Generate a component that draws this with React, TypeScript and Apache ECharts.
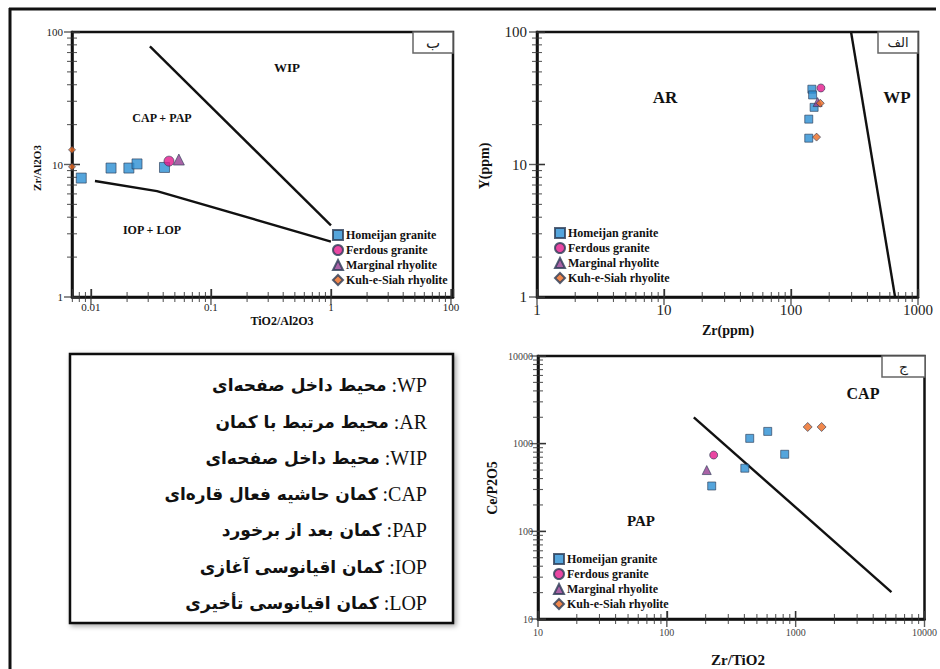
import React, { useEffect, useRef } from "react";
import * as echarts from "echarts";

// ---------- data ----------
const seriesNames = ["Homeijan granite", "Ferdous granite", "Marginal rhyolite", "Kuh-e-Siah rhyolite"];

// Plot "ب": TiO2/Al2O3 vs Zr/Al2O3
const bHomeijan = [[0.0083, 7.9], [0.0147, 9.4], [0.0207, 9.4], [0.0242, 10.1], [0.041, 9.5]];
const bFerdous = [[0.0447, 10.6]];
const bMarginal = [[0.054, 10.9]];
const bKuh = [[0.00695, 12.9], [0.00695, 9.6]];
const bLineUpper = [[0.031, 78], [1, 3.47]];
const bLineLower = [[0.0108, 7.5], [0.0355, 6.3], [1, 2.62]];
const bXTicks = [0.01, 0.1, 1, 10];
const bXLabels = ["0.01", "0.1", "1", "100"];
const bYTicks = [1, 10, 100];
const bYLabels = ["1", "10", "100"];

// Plot "الف": Zr vs Y
const aHomeijan = [[146, 37], [148, 33.5], [152, 27], [138, 22], [138, 15.8]];
const aFerdous = [[172, 37.8]];
const aMarginal = [[162, 29.6]];
const aKuh = [[170, 29], [159, 16.1]];
const aLine = [[297, 100], [660, 1]];
const aXTicks = [1, 10, 100, 1000];
const aXLabels = ["1", "10", "100", "1000"];
const aYTicks = [1, 10, 100];
const aYLabels = ["1", "10", "100"];

// Plot "ج": Zr/TiO2 vs Ce/P2O5
const cHomeijan = [[223, 329], [403, 525], [440, 1150], [607, 1380], [822, 757]];
const cFerdous = [[231, 742]];
const cMarginal = [[204, 500]];
const cKuh = [[1240, 1550], [1590, 1550]];
const cLine = [[162, 2000], [5540, 20.3]];
const cXTicks = [10, 100, 1000, 10000];
const cXLabels = ["10", "100", "1000", "10000"];
const cYTicks = [10, 100, 1000, 10000];
const cYLabels = ["10", "100", "1000", "10000"];

// minor tick multipliers inside each decade
const minorSteps = [2, 3, 4, 5, 6, 7, 8, 9];

// Persian glossary
const glossAbbr = ["WP", "AR", "WIP", "CAP", "PAP", "IOP", "LOP"];
const glossText = [
  "محیط داخل صفحه‌ای",
  "محیط مرتبط با کمان",
  "محیط داخل صفحه‌ای",
  "کمان حاشیه فعال قاره‌ای",
  "کمان بعد از برخورد",
  "کمان اقیانوسی آغازی",
  "کمان اقیانوسی تأخیری",
];

// ---------- styles ----------
const icons = ["rect", "circle", "triangle", "diamond"];
const colors = ["#2a8fd3", "#e3198b", "#933c90", "#ec6a21"];
const SERIF = "Liberation Serif";
const FA = "DejaVu Sans";

const fmt = (vals: number[], labels: string[]) => (v: number) => {
  for (let i = 0; i < vals.length; i++) {
    if (Math.abs(Math.log10(v) - Math.log10(vals[i])) < 1e-6) return labels[i];
  }
  return "";
};

function minorsFor(majors: number[], min: number, max: number) {
  const decades = [majors[0] / 10, ...majors];
  const out: number[] = [];
  for (const d of decades) {
    for (const m of minorSteps) {
      const v = d * m;
      if (v > min && v < max) out.push(v);
    }
  }
  return out;
}

function logAxis(gridIndex: number, pos: string, min: number, max: number, vals: number[], labels: string[], label: any) {
  return {
    type: "log",
    logBase: 10,
    gridIndex,
    position: pos,
    min,
    max,
    axisLine: { show: true, onZero: false, lineStyle: { color: "#111", width: 2.5 } },
    axisTick: { show: true, inside: true, length: 8, lineStyle: { color: "#333", width: 1.3 } },
    minorTick: { show: false },
    splitLine: { show: false },
    minorSplitLine: { show: false },
    axisLabel: { formatter: fmt(vals, labels), fontFamily: SERIF, color: "#222", ...label },
  };
}

// tick marks: thin rect symbols centred on the axis line, placed through the axis scale
function tickMarks(gi: number, dir: "x" | "y", min: number, max: number, majors: number[], other: number) {
  const mk = (vals: number[], len: number, w: number) => ({
    type: "scatter",
    xAxisIndex: gi,
    yAxisIndex: gi,
    silent: true,
    z: 4,
    symbol: "rect",
    symbolSize: dir === "x" ? [w, len * 2] : [len * 2, w],
    itemStyle: { color: "#333" },
    data: vals.map((v) => (dir === "x" ? [v, other] : [other, v])),
  });
  return [
    mk(majors.filter((v) => v >= min && v <= max), 8, 1.4),
    mk(minorsFor(majors, min, max), 5, 1.1),
  ];
}

function scatter(axisIdx: number, sets: number[][][], sizes: number[]) {
  return sets.map((d, i) => ({
    type: "scatter",
    name: seriesNames[i],
    xAxisIndex: axisIdx,
    yAxisIndex: axisIdx,
    data: d,
    symbol: icons[i],
    symbolSize: sizes[i],
    itemStyle: { color: colors[i], borderColor: "#2b3b55", borderWidth: 0.8 },
    z: 5,
  }));
}

function boundary(axisIdx: number, d: number[][]) {
  return {
    type: "line",
    xAxisIndex: axisIdx,
    yAxisIndex: axisIdx,
    data: d,
    symbol: "none",
    showSymbol: false,
    silent: true,
    lineStyle: { color: "#111", width: 2.4 },
    z: 3,
  };
}

function legend(left: number, top: number, fontSize: number, gap: number) {
  return {
    left,
    top,
    orient: "vertical",
    padding: 0,
    itemGap: gap,
    itemWidth: 10,
    itemHeight: 10,
    textStyle: { fontFamily: SERIF, fontWeight: "bold", fontSize, color: "#111", padding: [0, 0, 0, -2] },
    data: seriesNames.map((n, i) => ({ name: n, icon: icons[i] })),
    selectedMode: false,
  };
}

function txt(x: number, y: number, text: string, size: number, extra: any = {}) {
  return {
    type: "text",
    x,
    y,
    silent: true,
    style: {
      text,
      fontFamily: SERIF,
      fontWeight: "bold",
      fontSize: size,
      fill: "#111",
      align: "center",
      verticalAlign: "middle",
    },
    ...extra,
  };
}

function cornerBox(x: number, y: number, w: number, h: number, label: string, size: number) {
  return [
    {
      type: "rect",
      shape: { x, y, width: w, height: h },
      style: { fill: "#fff", stroke: "#666", lineWidth: 1.5 },
      z: 10,
    },
    {
      type: "text",
      x: x + w / 2,
      y: y + h / 2,
      style: { text: label, fontFamily: FA, fontSize: size, fill: "#222", align: "center", verticalAlign: "middle" },
      z: 11,
    },
  ];
}

export default function App() {
  const ref = useRef<HTMLDivElement>(null);
  useEffect(() => {
    if (!ref.current) return;
    const chart = echarts.init(ref.current, undefined, { renderer: "svg" });

    const lineYs = [385, 422, 458, 494, 530, 567, 603];
    const glossary = glossAbbr.map((ab, i) => ({
      type: "text",
      x: 427,
      y: lineYs[i],
      z: 12,
      style: {
        text: `{fa|${glossText[i]}}{en| :${ab}}`,
        align: "right",
        verticalAlign: "middle",
        rich: {
          fa: { fontFamily: FA, fontWeight: "bold", fontSize: 17, fill: "#111" },
          en: { fontFamily: SERIF, fontSize: 20, fill: "#111" },
        },
      },
    }));

    const option: any = {
      animation: false,
      backgroundColor: "#fff",
      grid: [
        { left: 72, top: 32, width: 381, height: 265, show: true, borderColor: "#111", borderWidth: 2.5 },
        { left: 537, top: 32, width: 381, height: 265, show: true, borderColor: "#111", borderWidth: 2.5 },
        { left: 538, top: 356, width: 387, height: 263, show: true, borderColor: "#111", borderWidth: 2.5 },
      ],
      xAxis: [
        logAxis(0, "bottom", 0.00695, 10.4, bXTicks, bXLabels, { fontSize: 11, margin: 4 }),
        logAxis(1, "bottom", 1, 1000, aXTicks, aXLabels, { fontSize: 15, margin: 5 }),
        logAxis(2, "bottom", 10, 10000, cXTicks, cXLabels, { fontSize: 10, margin: 8, color: "#444" }),
      ],
      yAxis: [
        logAxis(0, "left", 1, 100, bYTicks, bYLabels, { fontSize: 11, margin: 9 }),
        logAxis(1, "left", 1, 100, aYTicks, aYLabels, { fontSize: 15, margin: 10 }),
        logAxis(2, "left", 10, 10000, cYTicks, cYLabels, { fontSize: 10, margin: 5, color: "#444" }),
      ],
      legend: [legend(332, 229, 12, 3), legend(554, 227, 12, 3), legend(553, 553, 12, 3)],
      series: [
        ...tickMarks(0, "x", 0.00695, 10.4, bXTicks, 1),
        ...tickMarks(0, "y", 1, 100, bYTicks, 0.00695),
        ...tickMarks(1, "x", 1, 1000, aXTicks, 1),
        ...tickMarks(1, "y", 1, 100, aYTicks, 1),
        ...tickMarks(2, "x", 10, 10000, cXTicks, 10),
        ...tickMarks(2, "y", 10, 10000, cYTicks, 10),
        boundary(0, bLineUpper),
        boundary(0, bLineLower),
        ...scatter(0, [bHomeijan, bFerdous, bMarginal, bKuh], [10, 10, 11, 7]),
        boundary(1, aLine),
        ...scatter(1, [aHomeijan, aFerdous, aMarginal, aKuh], [8, 8, 9, 8]),
        boundary(2, cLine),
        ...scatter(2, [cHomeijan, cFerdous, cMarginal, cKuh], [8, 8, 9, 9]),
      ],
      graphic: [
        { type: "line", shape: { x1: 9, y1: 9, x2: 936, y2: 9 }, style: { stroke: "#111", lineWidth: 3 } },
        { type: "line", shape: { x1: 10, y1: 8, x2: 10, y2: 669 }, style: { stroke: "#111", lineWidth: 3 } },
        {
          type: "rect",
          shape: { x: 70, y: 354, width: 383, height: 269 },
          style: { fill: "#fff", stroke: "#111", lineWidth: 2.5, shadowBlur: 5, shadowColor: "rgba(0,0,0,0.35)", shadowOffsetX: 2, shadowOffsetY: 2 },
          z: 1,
        },
        ...glossary,
        ...cornerBox(413, 32, 40, 21, "ب", 15),
        ...cornerBox(878, 32, 40, 21, "الف", 13),
        ...cornerBox(882, 356, 43, 21, "ج", 14),
        txt(287, 67, "WIP", 13),
        txt(162, 118, "CAP + PAP", 12),
        txt(152, 230, "IOP + LOP", 12),
        txt(665, 97, "AR", 17),
        txt(897, 97, "WP", 17),
        txt(863, 393, "CAP", 16),
        txt(641, 521, "PAP", 15),
        txt(37, 168, "Zr/Al2O3", 11, { rotation: Math.PI / 2 }),
        txt(282, 321, "TiO2/Al2O3", 12),
        txt(484, 166, "Y(ppm)", 14, { rotation: Math.PI / 2 }),
        txt(728, 330, "Zr(ppm)", 14),
        txt(492, 488, "Ce/P2O5", 14, { rotation: Math.PI / 2 }),
        txt(738, 660, "Zr/TiO2", 15),
      ],
    };
    chart.setOption(option);
    return () => chart.dispose();
  }, []);
  return (
    <div
      ref={ref}
      style={{ position: "absolute", left: 0, top: 0, width: 940, height: 669, background: "#fff" }}
    />
  );
}
